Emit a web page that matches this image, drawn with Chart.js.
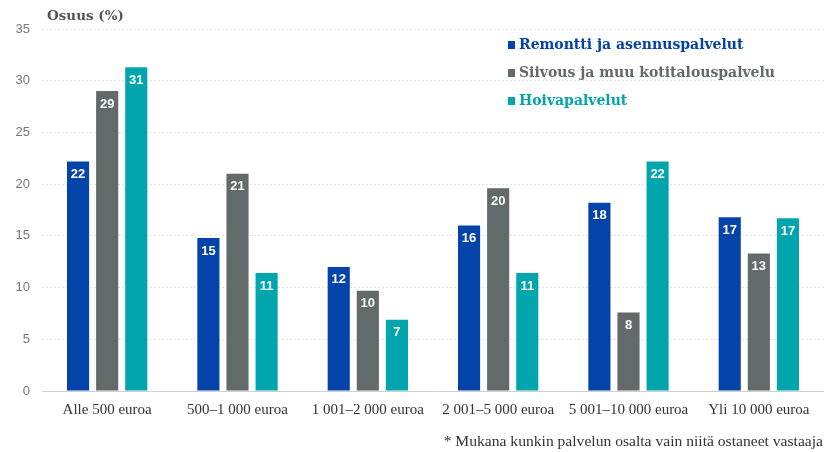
<!DOCTYPE html>
<html>
<head>
<meta charset="utf-8">
<script src="https://cdn.jsdelivr.net/npm/chart.js@4.4.1/dist/chart.umd.min.js"></script>
<style>
  html, body { margin: 0; padding: 0; background: #fff; }
  #wrap { width: 824px; height: 452px; position: relative; }
</style>
</head>
<body>
<div id="wrap"><canvas id="chart"></canvas></div>
<script>
(() => {

    // Data
    const categories = ['Alle 500 euroa', '500\u20131 000 euroa', '1 001\u20132 000 euroa', '2 001\u20135 000 euroa', '5 001\u201310 000 euroa', 'Yli 10 000 euroa'];
    const remontti = [22.2, 14.8, 12.0, 16.0, 18.2, 16.8];
    const siivous = [29.0, 21.0, 9.7, 19.6, 7.6, 13.3];
    const hoiva = [31.3, 11.4, 6.9, 11.4, 22.2, 16.7];
    const seriesNames = ['Remontti ja asennuspalvelut', 'Siivous ja muu kotitalouspalvelu', 'Hoivapalvelut'];
    const yTicks = [0, 5, 10, 15, 20, 25, 30, 35];
    const titleText = 'Osuus (%)';
    const footnoteText = '* Mukana kunkin palvelun osalta vain niitä ostaneet vastaaja';

    const colors = ['#0443a9', '#626a6a', '#00a5ad'];

    // values inside bars, legend, title and footnote
    const extras = {
        id: 'extras',
        afterDatasetsDraw(chart) {
            const ctx = chart.ctx;
            ctx.save();
            ctx.fillStyle = '#fff';
            ctx.font = 'bold 13px "Liberation Sans", Arial, sans-serif';
            ctx.textAlign = 'center';
            ctx.textBaseline = 'middle';
            chart.data.datasets.forEach((ds, i) => {
                chart.getDatasetMeta(i).data.forEach((bar, j) => {
                    ctx.fillText(String(Math.round(ds.data[j])), bar.x, bar.y + 13);
                });
            });
            ctx.restore();
        },
        afterDraw(chart) {
            const ctx = chart.ctx;
            const area = chart.chartArea;
            ctx.save();
            ctx.textBaseline = 'middle';

            ctx.fillStyle = '#555';
            ctx.textAlign = 'left';
            ctx.font = 'bold 13.5px "DejaVu Serif", serif';
            ctx.fillText(titleText, area.left + 5, 16);

            ctx.font = 'bold 14px "DejaVu Serif", serif';
            chart.data.datasets.forEach((ds, i) => {
                const y = 45 + i * 28;
                ctx.fillStyle = ds.backgroundColor;
                ctx.fillRect(508, y - 4, 7, 8);
                ctx.fillText(ds.label, 519, y);
            });

            ctx.fillStyle = '#333';
            ctx.textAlign = 'right';
            ctx.font = '15.6px "Liberation Serif", serif';
            ctx.fillText(footnoteText, 823, 442);
            ctx.restore();
        }
    };

    const ctx = document.getElementById('chart').getContext('2d');
    new Chart(ctx, {
        type: 'bar',
        data: {
            labels: categories,
            datasets: [
                { label: seriesNames[0], data: remontti, backgroundColor: colors[0] },
                { label: seriesNames[1], data: siivous, backgroundColor: colors[1] },
                { label: seriesNames[2], data: hoiva, backgroundColor: colors[2] },
            ]
        },
        options: {
            responsive: true,
            maintainAspectRatio: false,
            animation: false,
            layout: { padding: { top: 29, right: 0, bottom: 31, left: 0 } },
            datasets: {
                bar: { categoryPercentage: 0.67, barPercentage: 0.76 }
            },
            plugins: {
                legend: { display: false },
                tooltip: { enabled: false }
            },
            scales: {
                x: {
                    grid: { display: false },
                    border: { display: true, color: '#cfcfcf', width: 1 },
                    ticks: {
                        color: '#333',
                        padding: 2,
                        maxRotation: 0,
                        font: { family: '"Liberation Serif", serif', size: 15 }
                    }
                },
                y: {
                    min: 0,
                    max: 35,
                    afterBuildTicks: (scale) => { scale.ticks = yTicks.map(v => ({ value: v })); },
                    afterFit: (scale) => { scale.width = 42; },
                    grid: { color: '#e2e2e2', drawTicks: false },
                    border: { display: false, dash: [2, 2] },
                    ticks: {
                        color: '#777',
                        padding: 12,
                        font: { family: '"Liberation Sans", Arial, sans-serif', size: 13 }
                    }
                }
            }
        },
        plugins: [extras]
    });
})();
</script>
</body>
</html>
